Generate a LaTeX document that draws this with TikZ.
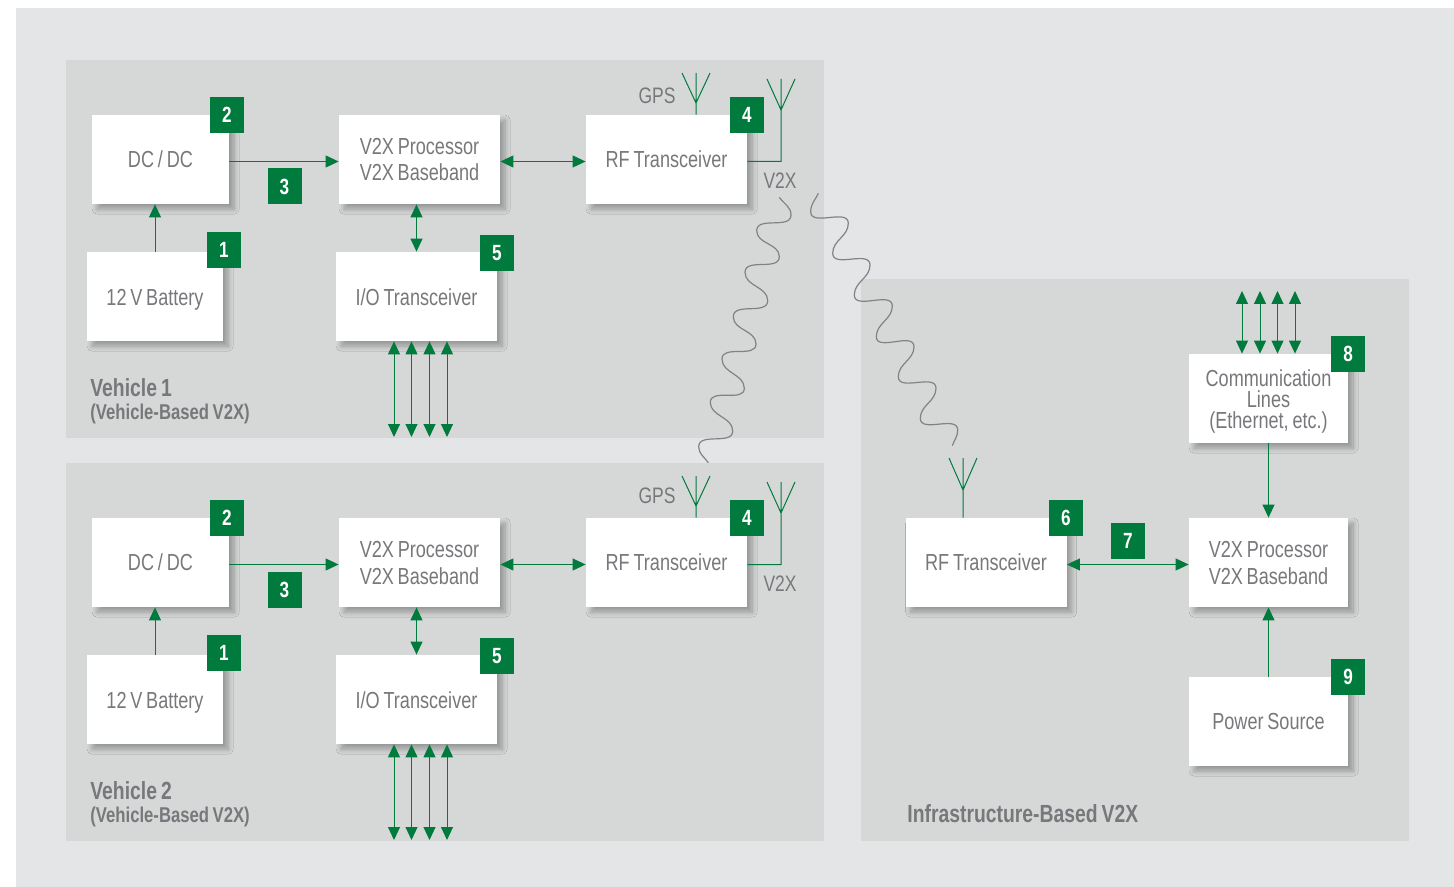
\documentclass[tikz,border=0pt]{standalone}
\usepackage{fontspec}
\setmainfont[FakeStretch=0.78,WordSpace=0.75]{Liberation Sans}
\usetikzlibrary{arrows.meta,shadows.blur}
\definecolor{pagegray}{HTML}{E4E5E7}
\definecolor{panelgray}{HTML}{D6D8D8}
\definecolor{textgray}{HTML}{77787B}
\definecolor{wavegray}{HTML}{808285}
\definecolor{v2xgreen}{HTML}{007A3D}
\tikzset{
	unitbox/.style={fill=white,text=textgray,inner sep=0pt,align=center,font=\fontsize{11.6}{13.4}\selectfont,
		text height=9pt,text depth=1.2pt,minimum width=#1,minimum height=44.5pt,
		blur shadow={shadow xshift=2.6pt,shadow yshift=-2.6pt,shadow blur steps=12,shadow blur radius=2.5pt,shadow opacity=30}},
	unitbox/.default=80.5pt,
	lowtext/.style={text height=9.6pt,text depth=0.6pt},
	textlines/.style={text height=#1,text depth=1pt},
	badge/.style={fill=v2xgreen,text=white,inner sep=0pt,minimum width=17pt,minimum height=18pt,font=\fontsize{11}{11}\bfseries\selectfont},
	biarrow/.style={draw=v2xgreen,line width=0.5pt,{Triangle[length=6.5pt,width=6pt]}-{Triangle[length=6.5pt,width=6pt]}},
	onearrow/.style={draw=v2xgreen,line width=0.5pt,-{Triangle[length=6.5pt,width=6pt]}},
	antenna/.style={draw=v2xgreen,line width=0.5pt},
	radiowave/.style={draw=wavegray,line width=0.6pt},
	plainlabel/.style={text=textgray,inner sep=0pt,font=\fontsize{11.2}{13.4}\selectfont},
	titlelabel/.style={text=textgray,inner sep=0pt,anchor=west,font=\fontsize{12.4}{14}\bfseries\selectfont},
	sublabel/.style={text=textgray,inner sep=0pt,anchor=west,font=\fontsize{10.7}{12}\bfseries\selectfont}
}
\begin{document}
\begin{tikzpicture}[x=0.5pt,y=-0.5pt]
	\useasboundingbox (0,0) rectangle (1454,887);
	\fill[pagegray] (16,8) rectangle (1454,887);
	\fill[panelgray] (66,60) rectangle (824,438);
	\fill[panelgray] (66,463) rectangle (824,841);
	\fill[panelgray] (861,279) rectangle (1409,841);
	\foreach \v/\dy/\gy in {1/0/96,2/403/93}{
		\begin{scope}[shift={(0,\dy)}]
			\node[unitbox=68.5pt] (dcdc\v) at (160.5,159.5) {DC\,/\,DC};
			\node[unitbox=68pt,lowtext] (batt\v) at (155,296.5) {12 V Battery};
			\node[unitbox,textlines=22.5pt] (proc\v) at (419.5,159.5) {V2X Processor\\V2X Baseband};
			\node[unitbox,lowtext] (io\v) at (416.5,296.5) {I/O Transceiver};
			\node[unitbox] (rf\v) at (666.5,159.5) {RF Transceiver};
			\node[badge] (bdcdc\v) at (227,115) {2};
			\node[badge] (bwire\v) at (284.5,186.5) {3};
			\node[badge] (bbatt\v) at (224,250) {1};
			\node[badge] (bio\v) at (497,253) {5};
			\node[badge] (brf\v) at (747,115) {4};
			\node[plainlabel] (gps\v) at (657,\gy) {GPS};
			\node[plainlabel] (v2x\v) at (780,181) {V2X};
			\node[titlelabel] (title\v) at (90,388) {Vehicle \v};
			\node[sublabel] (sub\v) at (90,414) {(Vehicle-Based V2X)};
			\coordinate (gfork\v) at (696,103);
			\coordinate (gtop\v) at (696,73);
			\coordinate (gleft\v) at (682,73);
			\coordinate (gright\v) at (710,73);
			\coordinate (vfork\v) at (781,110);
			\coordinate (vtop\v) at (781,79);
			\coordinate (vleft\v) at (767,79);
			\coordinate (vright\v) at (795,79);
			\draw[onearrow] ([yshift=-1pt]dcdc\v.east) -- ([yshift=-1pt]proc\v.west);
			\draw[onearrow] (batt\v.north) -- (batt\v.north |- dcdc\v.south);
			\draw[biarrow] ([yshift=-1pt]proc\v.east) -- ([yshift=-1pt]rf\v.west);
			\draw[biarrow] (io\v.north |- proc\v.south) -- (io\v.north);
			\foreach \i/\x in {1/394,2/411.5,3/429.5,4/447}{
				\coordinate (iopin\v\i) at (\x,437);
				\draw[biarrow] (iopin\v\i |- io\v.south) -- (iopin\v\i);
			}
			\draw[antenna] (gfork\v |- rf\v.north) -- (gtop\v) (gleft\v) -- (gfork\v) -- (gright\v);
			\draw[antenna] ([yshift=-1pt]rf\v.east) -| (vtop\v) (vleft\v) -- (vfork\v) -- (vright\v);
		\end{scope}
	}
	\node[unitbox] (infrarf) at (986,562.5) {RF Transceiver};
	\node[unitbox=79.5pt,textlines=22.5pt] (infraproc) at (1268.5,562.5) {V2X Processor\\V2X Baseband};
	\node[unitbox=79.5pt,textlines=30.5pt] (comm) at (1268.5,398.5) {Communication\\[-2.9pt]Lines\\[-2.9pt](Ethernet, etc.)};
	\node[unitbox=79.5pt] (power) at (1268.5,721.5) {Power Source};
	\node[badge] (binfrarf) at (1066,518) {6};
	\node[badge] (blink) at (1128,541) {7};
	\node[badge] (bcomm) at (1348,354) {8};
	\node[badge] (bpower) at (1348,677) {9};
	\node[titlelabel] (infratitle) at (907,814) {Infrastructure-Based V2X};
	\coordinate (ifork) at (963,490);
	\coordinate (itop) at (963,458);
	\coordinate (ileft) at (949,458);
	\coordinate (iright) at (977,458);
	\draw[biarrow] ([yshift=-1pt]infrarf.east) -- ([yshift=-1pt]infraproc.west);
	\draw[onearrow] (comm.south) -- (infraproc.north);
	\draw[onearrow] (power.north) -- (infraproc.south);
	\foreach \i/\x in {1/1242,2/1260,3/1277.5,4/1295}{
		\coordinate (commpin\i) at (\x,291);
		\draw[biarrow] (commpin\i |- comm.north) -- (commpin\i);
	}
	\draw[antenna] (ifork |- infrarf.north) -- (itop) (ileft) -- (ifork) -- (iright);
	\draw[radiowave] (779.3,197.3) to[out=-55,in=90] (791,215)
		\foreach \a/\b in {756.7/230.7,779.3/256.7,745/272.3,767.7/300.7,733.3/316.7,756/344,722/359,744.3/388.3,710.3/402.3,732.7/431,698.7/446.7}{
			to[out=-90,in=90] (\a,\b)
		}
		to[out=-90,in=125] (708.3,462.7);
	\draw[radiowave] (818.3,193.3) to[out=-115,in=90] (810.7,211.7)
		\foreach \a/\b in {848.3/223.3,832.7/253.3,870/265,854.3/295,892.3/306,876.3/336.7,914/346.7,898.3/376.7,936/388.3,920.3/418.3,957.7/430}{
			to[out=-90,in=90] (\a,\b)
		}
		to[out=-90,in=70] (952.3,445.7);
\end{tikzpicture}
\end{document}
